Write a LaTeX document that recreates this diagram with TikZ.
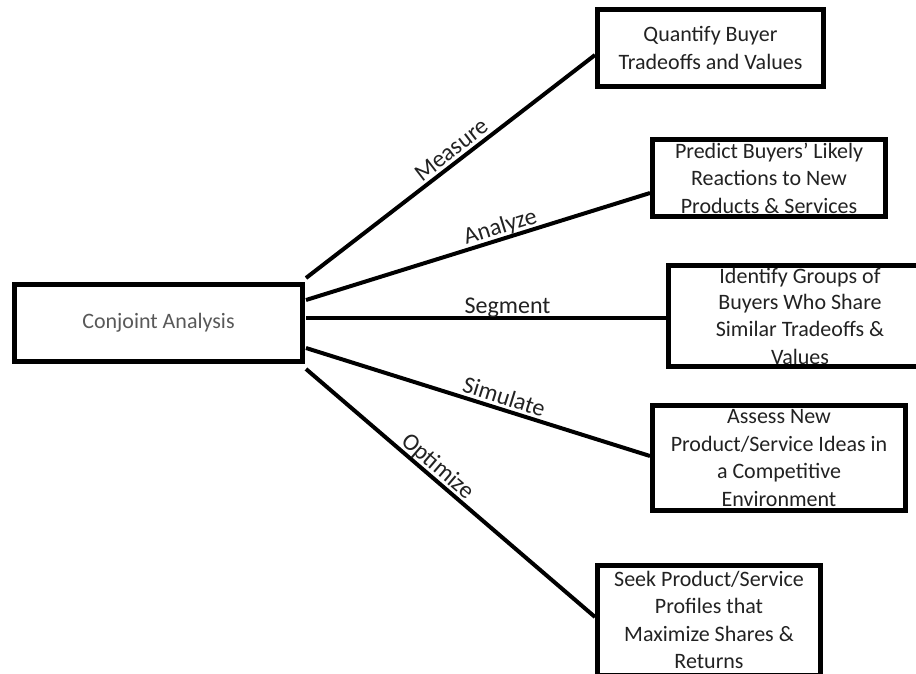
\documentclass[tikz,border=0pt]{standalone}
\usepackage{fontspec}
\setmainfont{Carlito}
\definecolor{boxtext}{HTML}{222222}
\definecolor{maintext}{HTML}{595959}
\begin{document}
\begin{tikzpicture}[x=1pt,y=-1pt,
  box/.style={draw=black, line width=5pt, fill=white, align=center, inner sep=0pt,
    text=boxtext, font=\fontsize{22}{27.5}\selectfont},
  link/.style={line width=4pt, line cap=butt},
  lbl/.style={sloped, anchor=south, text depth=0pt, inner xsep=0pt, inner ysep=3pt,
    text=boxtext, font=\fontsize{24}{28}\selectfont}]
\useasboundingbox (0,0) rectangle (916,673);
\clip (0,0) rectangle (916,673);

\node[box, minimum width=288pt, minimum height=77pt, text=maintext] (ca) at (158.5,323) {Conjoint Analysis};
\node[box, minimum width=226pt, minimum height=77pt] (b1) at (710.5,48) {Quantify Buyer\\Tradeoffs and Values};
\node[box, minimum width=233pt, minimum height=77pt] (b2) at (769,178) {Predict Buyers’ Likely\\Reactions to New\\Products \& Services};
\node[box, minimum width=263pt, minimum height=101pt] (b3) at (800,316) {\raisebox{-1.5pt}{Identify Groups of}\\Buyers Who Share\\Similar Tradeoffs \&\\Values};
\node[box, minimum width=253pt, minimum height=105pt] (b4) at (779,458) {Assess New\\Product/Service Ideas in\\a Competitive\\Environment};
\node[box, minimum width=223pt, minimum height=110pt] (b5) at (709,620) {Seek Product/Service\\Profiles that\\Maximize Shares \&\\Returns};

\coordinate (s1) at (306,278);
\coordinate (s2) at (306,300);
\coordinate (s3) at (306,318);
\coordinate (s4) at (306,348);
\coordinate (s5) at (306,369);
\coordinate (e1) at (b1.west |- 0,55);
\coordinate (e2) at (b2.west |- 0,193);
\coordinate (e3) at (b3.west |- 0,318);
\coordinate (e4) at (b4.west |- 0,456);
\coordinate (e5) at (b5.west |- 0,617);

\draw[link] (s1) -- node[lbl, pos=0.53] {Measure} (e1);
\draw[link] (s2) -- node[lbl, pos=0.575] {Analyze} (e2);
\draw[link] (s3) -- node[lbl, pos=0.56] {Segment} (e3);
\draw[link] (s4) -- node[lbl, pos=0.565] {Simulate} (e4);
\draw[link] (s5) -- node[lbl, pos=0.43] {Optimize} (e5);
\end{tikzpicture}
\end{document}
